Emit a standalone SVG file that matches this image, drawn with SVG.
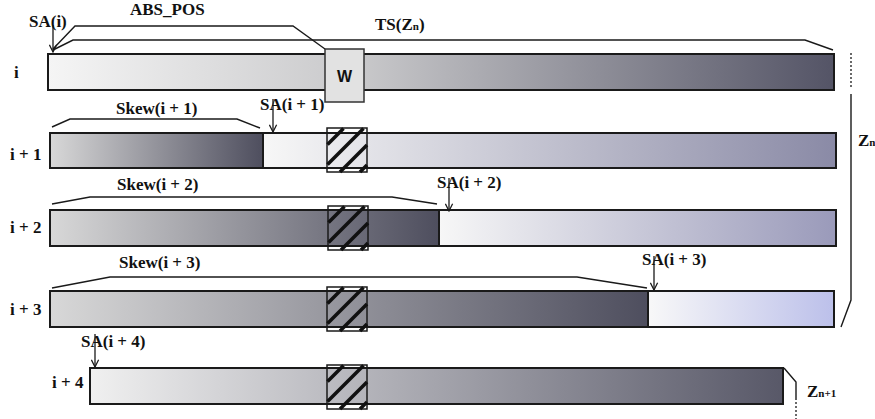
<svg xmlns="http://www.w3.org/2000/svg" width="875" height="419" viewBox="0 0 875 419">
<defs>
<style>
.t{font-family:"Liberation Serif","Times New Roman",serif;font-weight:bold;font-size:17px;fill:#111}
.bar{stroke:#1a1a1a;stroke-width:2}
.br{fill:none;stroke:#1a1a1a;stroke-width:1.4}
.arr{fill:none;stroke:#1a1a1a;stroke-width:1.3;marker-end:url(#ah)}
.hs{stroke:#111;stroke-width:3.6;stroke-linecap:butt}
</style>
<linearGradient id="g0" x1="0" y1="0" x2="1" y2="0"><stop offset="0" stop-color="#f5f5f5"/><stop offset="0.4" stop-color="#c8c8ca"/><stop offset="1" stop-color="#545466"/></linearGradient>
<linearGradient id="gd" x1="0" y1="0" x2="1" y2="0"><stop offset="0" stop-color="#d8d8d8"/><stop offset="1" stop-color="#4e4e5e"/></linearGradient>
<linearGradient id="g4" x1="0" y1="0" x2="1" y2="0"><stop offset="0" stop-color="#f0f0f0"/><stop offset="1" stop-color="#585868"/></linearGradient>
<linearGradient id="gl1" x1="0" y1="0" x2="1" y2="0"><stop offset="0" stop-color="#f7f7f7"/><stop offset="1" stop-color="#8a8aa6"/></linearGradient>
<linearGradient id="gl2" x1="0" y1="0" x2="1" y2="0"><stop offset="0" stop-color="#f7f7f7"/><stop offset="1" stop-color="#9a9aba"/></linearGradient>
<linearGradient id="gl3" x1="0" y1="0" x2="1" y2="0"><stop offset="0" stop-color="#f8f8f8"/><stop offset="1" stop-color="#bcc0ea"/></linearGradient>
<g id="hatchbox">
<rect x="0" y="0" width="40" height="44" fill="none" stroke="#1a1a1a" stroke-width="1.5"/>
<line class="hs" x1="0.5" y1="16.5" x2="16.5" y2="0.5"/>
<line class="hs" x1="0.5" y1="36.5" x2="36.5" y2="0.5"/>
<line class="hs" x1="13" y1="44" x2="40" y2="17"/>
<line class="hs" x1="33" y1="44" x2="40" y2="37"/>
</g>
<marker id="ah" viewBox="0 0 10 10" refX="9" refY="5" markerWidth="9" markerHeight="9" orient="auto" markerUnits="userSpaceOnUse">
<path d="M1,1 L9,5 L1,9" fill="none" stroke="#1a1a1a" stroke-width="1.4"/>
</marker>
</defs>
<rect width="875" height="419" fill="#fff"/>

<g id="row-i">
<rect class="bar" x="48" y="54" width="786" height="36" fill="url(#g0)"/>
<text class="t" x="14" y="78">i</text>
</g>
<g id="w-box">
<rect x="325" y="49" width="39" height="53" fill="#e2e2e2" stroke="#333" stroke-width="1.5"/>
<text x="344.5" y="82" text-anchor="middle" font-family="Liberation Sans, Arial, sans-serif" font-weight="bold" font-size="16" fill="#111">W</text>
</g>

<g id="row-i1">
<rect class="bar" x="50" y="133" width="213" height="35" fill="url(#gd)"/>
<rect class="bar" x="263" y="133" width="573" height="35" fill="url(#gl1)"/>
<use href="#hatchbox" x="327" y="128"/>
<text class="t" x="10" y="160">i + 1</text>
</g>

<g id="row-i2">
<rect class="bar" x="50" y="210" width="389" height="36" fill="url(#gd)"/>
<rect class="bar" x="439" y="210" width="397" height="36" fill="url(#gl2)"/>
<use href="#hatchbox" x="328" y="206"/>
<text class="t" x="10" y="233">i + 2</text>
</g>

<g id="row-i3">
<rect class="bar" x="50" y="291" width="598" height="36" fill="url(#gd)"/>
<rect class="bar" x="648" y="291" width="186" height="36" fill="url(#gl3)"/>
<use href="#hatchbox" x="327" y="287"/>
<text class="t" x="10" y="315">i + 3</text>
</g>

<g id="row-i4">
<rect class="bar" x="90" y="368" width="693" height="36" fill="url(#g4)"/>
<use href="#hatchbox" x="327" y="365"/>
<text class="t" x="52" y="388">i + 4</text>
</g>

<g id="connectors">
<path class="br" d="M53,49 L75,26 L293,26 L325,49"/>
<path class="br" d="M53,50 L73,40 L805,40 L833,50"/>
<path class="br" d="M52,127 L70,119 L237,119 L260,128"/>
<path class="br" d="M52,204 L90,197 L392,197 L437,204"/>
<path class="br" d="M52,288 L110,277 L577,277 L647,288"/>
<line x1="851" y1="53" x2="851" y2="89" stroke="#1a1a1a" stroke-width="1.3" stroke-dasharray="2,2"/>
<path class="br" d="M851,94 L851,300 L841,327"/>
<path class="br" d="M784,368 L796,382 L796,400"/>
<line x1="796" y1="402" x2="796" y2="419" stroke="#1a1a1a" stroke-width="1.3" stroke-dasharray="2,2"/>
<path class="arr" d="M53,25 L53,52"/>
<path class="arr" d="M273,99 L273,132"/>
<path class="arr" d="M449,178 L449,211"/>
<path class="arr" d="M654,256 L654,290"/>
<path class="arr" d="M95,334 L95,367"/>
</g>

<g id="labels">
<text class="t" x="130" y="15">ABS_POS</text>
<text class="t" x="29" y="27">SA(i)</text>
<text class="t" x="375" y="30">TS(Z<tspan font-size="11">n</tspan>)</text>
<text class="t" x="116" y="114">Skew(i + 1)</text>
<text class="t" x="260" y="110">SA(i + 1)</text>
<text class="t" x="117" y="190">Skew(i + 2)</text>
<text class="t" x="437" y="188">SA(i + 2)</text>
<text class="t" x="119" y="268">Skew(i + 3)</text>
<text class="t" x="642" y="265">SA(i + 3)</text>
<text class="t" x="81" y="347">SA(i + 4)</text>
<text class="t" x="858" y="146">Z<tspan font-size="11">n</tspan></text>
<text class="t" x="807" y="397">Z<tspan font-size="11">n+1</tspan></text>
</g>
</svg>
